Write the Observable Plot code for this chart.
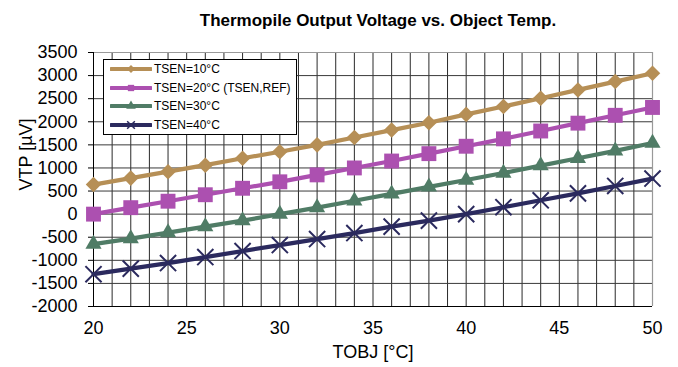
<!DOCTYPE html>
<html>
<head>
<meta charset="utf-8">
<script src="https://cdn.jsdelivr.net/npm/d3@7"></script>
<script src="https://cdn.jsdelivr.net/npm/@observablehq/plot@0.6"></script>
<style>
  html, body { margin: 0; padding: 0; background: #fff; }
  #wrap { position: relative; width: 678px; height: 367px; font-family: "Liberation Sans", Arial, sans-serif; overflow: hidden; }
  #title { height: 36px; line-height: 42px; font-weight: bold; font-size: 17px; color: #000; text-align: center; padding-left: 78px; box-sizing: border-box; width: 678px; white-space: nowrap; }
  #legend { position: absolute; left: 103px; top: 59px; width: 192px; height: 74px; border: 1px solid #000; background: #fff; font-size: 12px; }
  .row { position: absolute; left: 6px; height: 18px; display: flex; align-items: center; }
  .row svg { margin-right: 2px; }
</style>
</head>
<body>
<div id="wrap">
  <div id="title">Thermopile Output Voltage vs. Object Temp.</div>
  <div id="chart"></div>
  <div id="legend"></div>
</div>
<script>
// Data
const tobj = [20, 22, 24, 26, 28, 30, 32, 34, 36, 38, 40, 42, 44, 46, 48, 50];
const vtp10 = [640, 780, 920, 1060, 1210, 1350, 1500, 1660, 1820, 1980, 2160, 2330, 2510, 2690, 2870, 3050];
const vtp20 = [0, 140, 280, 420, 560, 700, 850, 1000, 1150, 1310, 1470, 1630, 1800, 1970, 2140, 2310];
const vtp30 = [-650, -530, -400, -270, -140, 0, 140, 290, 440, 590, 740, 890, 1050, 1210, 1370, 1540];
const vtp40 = [-1300, -1180, -1060, -930, -800, -670, -540, -410, -270, -140, 0, 150, 300, 450, 610, 770];
const seriesNames = ["TSEN=10°C", "TSEN=20°C (TSEN,REF)", "TSEN=30°C", "TSEN=40°C"];
const xTicks = [20, 25, 30, 35, 40, 45, 50];
const yTicks = [-2000, -1500, -1000, -500, 0, 500, 1000, 1500, 2000, 2500, 3000, 3500];

const colors = ["#B68F56", "#AC50B0", "#507C66", "#2B2A5E"];
const symbols = ["diamond2", "square", "triangle", "times"];
const radii = [7, 8.4, 6.0, 7.4];
const allValues = [vtp10, vtp20, vtp30, vtp40];

const marks = [
  Plot.gridX(d3.range(20, 51, 1), {stroke: "#2a2a2a", strokeOpacity: 1, strokeWidth: 1}),
  Plot.gridY(yTicks, {stroke: "#3a3a3a", strokeOpacity: 1, strokeWidth: 1}),
  Plot.ruleY([3500], {stroke: "#999", strokeWidth: 1.2}),
  Plot.ruleX([50], {stroke: "#999", strokeWidth: 1.2}),
  Plot.axisY({ticks: yTicks, tickSize: 5, tickPadding: 11, fontSize: 18, label: null, tickFormat: d => String(d).replace("−", "-")}),
  Plot.axisX({ticks: xTicks, tickSize: 0, tickPadding: 15, fontSize: 18, label: null}),
  Plot.ruleX([20], {stroke: "#000", strokeWidth: 1}),
  Plot.ruleY([-2000], {stroke: "#000", strokeWidth: 1}),
  Plot.text(["VTP [µV]"], {frameAnchor: "left", dx: -67, dy: 11, rotate: -90, fontSize: 18, fill: "#000"}),
  Plot.text(["TOBJ [°C]"], {frameAnchor: "bottom", dy: 51, fontSize: 18, fill: "#000"})
];

allValues.forEach((vals, i) => {
  const rows = tobj.map((t, j) => ({t, v: vals[j]}));
  marks.push(Plot.line(rows, {x: "t", y: "v", stroke: colors[i], strokeWidth: 4.2}));
  if (symbols[i] === "times") {
    marks.push(Plot.dot(rows, {x: "t", y: "v", symbol: "times", r: radii[i], stroke: colors[i], strokeWidth: 2}));
  } else {
    marks.push(Plot.dot(rows, {x: "t", y: "v", symbol: symbols[i], r: radii[i], fill: colors[i], stroke: "none"}));
  }
});

const chart = Plot.plot({
  width: 678,
  height: 331,
  marginLeft: 93,
  marginRight: 26,
  marginTop: 16,
  marginBottom: 61,
  style: {fontFamily: "'Liberation Sans', Arial, sans-serif", color: "#000", background: "#fff", overflow: "visible"},
  x: {domain: [20, 50]},
  y: {domain: [-2000, 3500]},
  marks
});
document.getElementById("chart").appendChild(chart);

// Legend
const legend = document.getElementById("legend");
const rowTops = [0, 19, 37, 56];
seriesNames.forEach((name, i) => {
  const row = document.createElement("div");
  row.className = "row";
  row.style.top = rowTops[i] + "px";
  const ns = "http://www.w3.org/2000/svg";
  const svg = document.createElementNS(ns, "svg");
  svg.setAttribute("width", 42);
  svg.setAttribute("height", 18);
  const ln = document.createElementNS(ns, "line");
  ln.setAttribute("x1", 1); ln.setAttribute("x2", 41);
  ln.setAttribute("y1", 9); ln.setAttribute("y2", 9);
  ln.setAttribute("stroke", colors[i]); ln.setAttribute("stroke-width", 4);
  ln.setAttribute("stroke-linecap", "round");
  svg.appendChild(ln);
  const symMap = {diamond2: d3.symbolDiamond2, square: d3.symbolSquare, triangle: d3.symbolTriangle, times: d3.symbolTimes};
  const p = document.createElementNS(ns, "path");
  p.setAttribute("d", d3.symbol(symMap[symbols[i]], 40)());
  p.setAttribute("transform", "translate(21,9)");
  if (symbols[i] === "times") { p.setAttribute("fill", "none"); p.setAttribute("stroke", colors[i]); p.setAttribute("stroke-width", 1.5); }
  else p.setAttribute("fill", colors[i]);
  svg.appendChild(p);
  row.appendChild(svg);
  const span = document.createElement("span");
  span.textContent = name;
  row.appendChild(span);
  legend.appendChild(row);
});
</script>
</body>
</html>
